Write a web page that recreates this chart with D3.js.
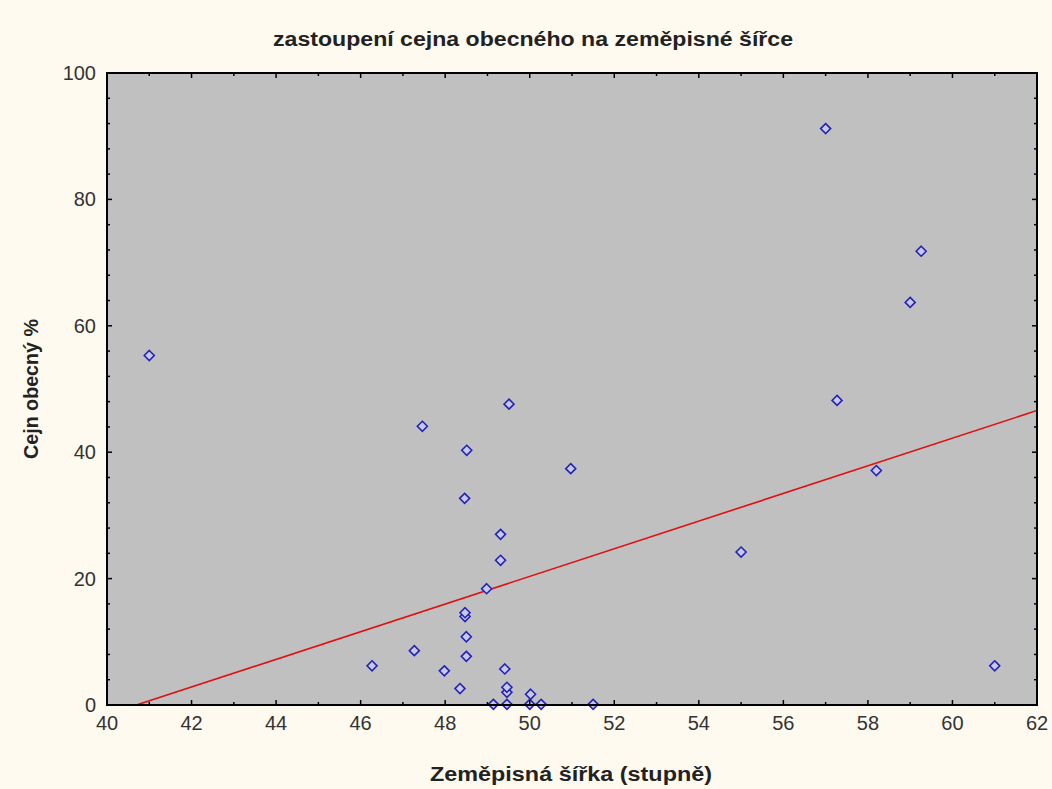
<!DOCTYPE html>
<html>
<head>
<meta charset="utf-8">
<script src="https://cdn.jsdelivr.net/npm/d3@7"></script>
<style>
  body { margin: 0; background: #fffaf0; }
  svg { display: block; }
  .tick-label { font-family: "Liberation Sans", Arial, sans-serif; font-size: 20px; fill: #333; }
  .title { font-family: "Liberation Sans", Arial, sans-serif; font-size: 20px; font-weight: bold; fill: #222; }
  .axis-title { font-family: "Liberation Sans", Arial, sans-serif; font-size: 20px; font-weight: bold; fill: #222; }
</style>
</head>
<body>
<div id="chart"></div>
<script>
// latitude (degrees) and share of common bream (%)
var latitude = [41.0, 57.0, 59.26, 59.0, 57.27, 58.2, 55.0, 61.0, 50.97, 49.51,
  47.46, 48.51, 48.46, 49.31, 49.31, 48.98, 48.47, 48.47, 48.5, 48.5,
  47.27, 47.98, 48.35, 49.41, 49.46, 49.46, 50.02, 49.14, 49.46, 50.0,
  50.27, 51.5, 46.27];
var bream = [55.3, 91.2, 71.8, 63.7, 48.2, 37.1, 24.2, 6.2, 37.4, 47.6,
  44.1, 40.3, 32.7, 27.0, 22.9, 18.4, 14.0, 14.6, 10.8, 7.7,
  8.6, 5.4, 2.6, 5.7, 2.0, 2.8, 1.7, 0.1, 0.1, 0.1,
  0.1, 0.1, 6.2];

// fitted line y = intercept + slope * x
var fitIntercept = -89.0;
var fitSlope = 2.187;

var xTicks = [40, 42, 44, 46, 48, 50, 52, 54, 56, 58, 60, 62];
var yTicks = [0, 20, 40, 60, 80, 100];

(function () {
  var width = 1052,
    height = 789;

  var pLeft = 107, pRight = 1037, pTop = 73, pBottom = 705;

  var x = d3.scaleLinear().domain([40, 62]).range([pLeft, pRight]);
  var y = d3.scaleLinear().domain([0, 100]).range([pBottom, pTop]);

  var svg = d3.select("#chart").append("svg")
    .attr("width", width)
    .attr("height", height);

  svg.append("rect")
    .attr("width", width)
    .attr("height", height)
    .attr("fill", "#fffaf0");

  svg.append("text")
    .attr("class", "title")
    .attr("x", 533)
    .attr("y", 46)
    .attr("text-anchor", "middle")
    .attr("textLength", 520)
    .attr("lengthAdjust", "spacingAndGlyphs")
    .text("zastoupení cejna obecného na zeměpisné šířce");

  svg.append("defs").append("clipPath")
    .attr("id", "plot-clip")
    .append("rect")
    .attr("x", pLeft)
    .attr("y", pTop)
    .attr("width", pRight - pLeft)
    .attr("height", pBottom - pTop);

  svg.append("rect")
    .attr("x", pLeft)
    .attr("y", pTop)
    .attr("width", pRight - pLeft)
    .attr("height", pBottom - pTop)
    .attr("fill", "#c0c0c0");

  // regression line
  var x0 = 40, x1 = 62;
  svg.append("line")
    .attr("clip-path", "url(#plot-clip)")
    .attr("x1", x(x0))
    .attr("y1", y(fitIntercept + fitSlope * x0))
    .attr("x2", x(x1))
    .attr("y2", y(fitIntercept + fitSlope * x1))
    .attr("stroke", "#e01010")
    .attr("stroke-width", 1.6);

  // points
  var diamond = d3.symbol().type(d3.symbolDiamond2).size(64);
  svg.append("g")
    .selectAll("path")
    .data(d3.range(latitude.length))
    .enter().append("path")
    .attr("transform", function (i) {
      return "translate(" + x(latitude[i]) + "," + y(bream[i]) + ")";
    })
    .attr("d", diamond)
    .attr("fill", "#c8c8ee")
    .attr("stroke", "#2424b4")
    .attr("stroke-width", 1.6);

  // ticks on all four sides, pointing inward
  var ticks = svg.append("g").attr("stroke", "#000").attr("stroke-width", 1.5);

  d3.range(40, 62.5, 1).forEach(function (v) {
    var len = v % 2 === 0 ? 5 : 3;
    ticks.append("line").attr("x1", x(v)).attr("x2", x(v)).attr("y1", pBottom).attr("y2", pBottom - len);
    ticks.append("line").attr("x1", x(v)).attr("x2", x(v)).attr("y1", pTop).attr("y2", pTop + len);
  });

  d3.range(0, 101, 4).forEach(function (v) {
    var len = v % 20 === 0 ? 5 : 3;
    ticks.append("line").attr("y1", y(v)).attr("y2", y(v)).attr("x1", pLeft).attr("x2", pLeft + len);
    ticks.append("line").attr("y1", y(v)).attr("y2", y(v)).attr("x1", pRight).attr("x2", pRight - len);
  });

  svg.append("rect")
    .attr("x", pLeft)
    .attr("y", pTop)
    .attr("width", pRight - pLeft)
    .attr("height", pBottom - pTop)
    .attr("fill", "none")
    .attr("stroke", "#000")
    .attr("stroke-width", 2);

  svg.append("g")
    .selectAll("text")
    .data(xTicks)
    .enter().append("text")
    .attr("class", "tick-label")
    .attr("x", d => x(d))
    .attr("y", 730)
    .attr("text-anchor", "middle")
    .text(d => d);

  svg.append("g")
    .selectAll("text")
    .data(yTicks)
    .enter().append("text")
    .attr("class", "tick-label")
    .attr("x", 96)
    .attr("y", d => y(d) + 7)
    .attr("text-anchor", "end")
    .text(d => d);

  svg.append("text")
    .attr("class", "axis-title")
    .attr("x", 571)
    .attr("y", 781)
    .attr("text-anchor", "middle")
    .attr("textLength", 282)
    .attr("lengthAdjust", "spacingAndGlyphs")
    .text("Zeměpisná šířka (stupně)");

  svg.append("text")
    .attr("class", "axis-title")
    .attr("transform", "translate(38,389) rotate(-90)")
    .attr("text-anchor", "middle")
    .attr("textLength", 140)
    .attr("lengthAdjust", "spacingAndGlyphs")
    .text("Cejn obecný %");
})();
</script>
</body>
</html>
